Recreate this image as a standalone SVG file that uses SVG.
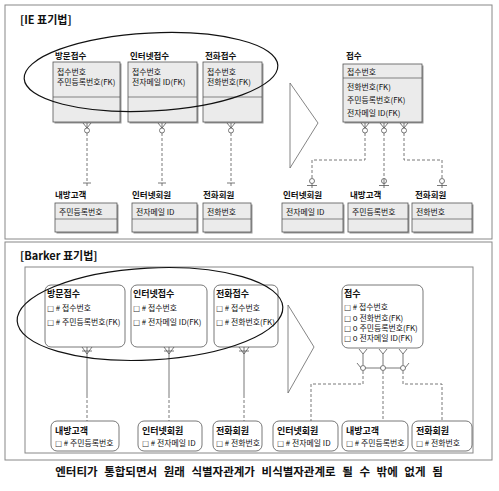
<svg xmlns="http://www.w3.org/2000/svg" width="499" height="491" viewBox="0 0 499 491">
<style>
text{font-family:"Noto Sans CJK KR","Noto Sans",sans-serif;fill:#111}
.h{font-size:11px;font-weight:bold}
.t{font-size:8.5px;font-weight:bold}
.a{font-size:7.9px}
.bt{font-size:9px;font-weight:bold}
.ba{font-size:7.9px}
.q{font-family:"DejaVu Sans",sans-serif;font-size:7.5px;fill:#333}
.ie{fill:#ebebeb;stroke:#555;stroke-width:0.8}
.sh{fill:#999}
.sep{stroke:#555;stroke-width:0.7}
.bk{fill:#fff;stroke:#555;stroke-width:0.8}
.frame{fill:none;stroke:#888;stroke-width:1}
.ln{fill:none;stroke:#555;stroke-width:0.8}
.ds{fill:none;stroke:#555;stroke-width:0.8;stroke-dasharray:3,2}
.ci{fill:#fff;stroke:#555;stroke-width:0.8}
.ell{fill:none;stroke:#111;stroke-width:1.2}
.tri{fill:none;stroke:#666;stroke-width:0.8}
</style>
<rect width="499" height="491" fill="#fff"/>
<rect class="frame" x="5" y="5" width="487" height="234"/>
<rect class="frame" x="5" y="242" width="487" height="218"/>
<rect class="frame" x="25" y="267" width="448" height="186"/>
<text class="h" x="20" y="24">[IE 표기법]</text>
<text class="h" x="20" y="260">[Barker 표기법]</text>

<g id="ie-visit">
<text class="t" x="55" y="59">방문접수</text>
<rect class="sh" x="54.5" y="63.5" width="67" height="60"/>
<rect class="ie" x="53" y="62" width="67" height="60"/>
<line class="sep" x1="53" y1="97" x2="120" y2="97"/>
<text class="a" x="57" y="75">접수번호</text>
<text class="a" x="57" y="85">주민등록번호(FK)</text>
</g>
<g id="ie-internet">
<text class="t" x="130" y="59">인터넷접수</text>
<rect class="sh" x="129.5" y="63.5" width="69" height="60"/>
<rect class="ie" x="128" y="62" width="69" height="60"/>
<line class="sep" x1="128" y1="97" x2="197" y2="97"/>
<text class="a" x="132" y="75">접수번호</text>
<text class="a" x="132" y="85">전자메일 ID(FK)</text>
</g>
<g id="ie-phone">
<text class="t" x="205" y="59">전화접수</text>
<rect class="sh" x="204.5" y="63.5" width="59" height="60"/>
<rect class="ie" x="203" y="62" width="59" height="60"/>
<line class="sep" x1="203" y1="97" x2="262" y2="97"/>
<text class="a" x="207" y="75">접수번호</text>
<text class="a" x="207" y="85">전화번호(FK)</text>
</g>
<g id="ie-merged">
<text class="t" x="346" y="59">접수</text>
<rect class="sh" x="344.5" y="65.5" width="79" height="58"/>
<rect class="ie" x="343" y="64" width="79" height="58"/>
<line class="sep" x1="343" y1="78" x2="422" y2="78"/>
<text class="a" x="347" y="75">접수번호</text>
<text class="a" x="347" y="90">전화번호(FK)</text>
<text class="a" x="347" y="103">주민등록번호(FK)</text>
<text class="a" x="347" y="116">전자메일 ID(FK)</text>
</g>

<g id="ie-cust-l">
<text class="t" x="55" y="198">내방고객</text>
<rect class="sh" x="56.5" y="204.5" width="62" height="29"/>
<rect class="ie" x="55" y="203" width="62" height="29"/>
<line class="sep" x1="55" y1="219" x2="117" y2="219"/>
<text class="a" x="59" y="215">주민등록번호</text>
</g>
<g id="ie-net-l">
<text class="t" x="132" y="198">인터넷회원</text>
<rect class="sh" x="133.5" y="204.5" width="65" height="29"/>
<rect class="ie" x="132" y="203" width="65" height="29"/>
<line class="sep" x1="132" y1="219" x2="197" y2="219"/>
<text class="a" x="136" y="215">전자메일 ID</text>
</g>
<g id="ie-tel-l">
<text class="t" x="203" y="198">전화회원</text>
<rect class="sh" x="204.5" y="204.5" width="48" height="29"/>
<rect class="ie" x="203" y="203" width="48" height="29"/>
<line class="sep" x1="203" y1="219" x2="251" y2="219"/>
<text class="a" x="207" y="215">전화번호</text>
</g>
<g id="ie-net-r">
<text class="t" x="283" y="198">인터넷회원</text>
<rect class="sh" x="283.5" y="204.5" width="61" height="29"/>
<rect class="ie" x="282" y="203" width="61" height="29"/>
<line class="sep" x1="282" y1="219" x2="343" y2="219"/>
<text class="a" x="286" y="215">전자메일 ID</text>
</g>
<g id="ie-cust-r">
<text class="t" x="350" y="198">내방고객</text>
<rect class="sh" x="349.5" y="204.5" width="60" height="29"/>
<rect class="ie" x="348" y="203" width="60" height="29"/>
<line class="sep" x1="348" y1="219" x2="408" y2="219"/>
<text class="a" x="352" y="215">주민등록번호</text>
</g>
<g id="ie-tel-r">
<text class="t" x="415" y="198">전화회원</text>
<rect class="sh" x="413.5" y="204.5" width="60" height="29"/>
<rect class="ie" x="412" y="203" width="60" height="29"/>
<line class="sep" x1="412" y1="219" x2="472" y2="219"/>
<text class="a" x="416" y="215">전화번호</text>
</g>

<g id="bk-visit">
<rect class="bk" x="45" y="285" width="80" height="62" rx="6"/>
<text class="bt" x="47" y="297">방문접수</text>
<text class="ba" x="47" y="311"><tspan class="q">□</tspan> # 접수번호</text>
<text class="ba" x="47" y="325"><tspan class="q">□</tspan> # 주민등록번호(FK)</text>
</g>
<g id="bk-internet">
<rect class="bk" x="131" y="285" width="76" height="62" rx="6"/>
<text class="bt" x="133" y="297">인터넷접수</text>
<text class="ba" x="133" y="311"><tspan class="q">□</tspan> # 접수번호</text>
<text class="ba" x="133" y="325"><tspan class="q">□</tspan> # 전자메일 ID(FK)</text>
</g>
<g id="bk-phone">
<rect class="bk" x="214" y="285" width="64" height="62" rx="6"/>
<text class="bt" x="216" y="297">전화접수</text>
<text class="ba" x="216" y="311"><tspan class="q">□</tspan> # 접수번호</text>
<text class="ba" x="216" y="325"><tspan class="q">□</tspan> # 전화번호(FK)</text>
</g>
<g id="bk-merged">
<rect class="bk" x="342" y="285" width="81" height="63" rx="6"/>
<text class="bt" x="344" y="297">접수</text>
<text class="ba" x="344" y="310"><tspan class="q">□</tspan> # 접수번호</text>
<text class="ba" x="344" y="321"><tspan class="q">□</tspan> o 전화번호(FK)</text>
<text class="ba" x="344" y="331"><tspan class="q">□</tspan> o 주민등록번호(FK)</text>
<text class="ba" x="344" y="341"><tspan class="q">□</tspan> o 전자메일 ID(FK)</text>
</g>
<g id="bk-cust-l">
<rect class="bk" x="51" y="421" width="68" height="30" rx="6"/>
<text class="bt" x="55" y="434">내방고객</text>
<text class="ba" x="55" y="446"><tspan class="q">□</tspan> # 주민등록번호</text>
</g>
<g id="bk-net-l">
<rect class="bk" x="138" y="421" width="64" height="30" rx="6"/>
<text class="bt" x="142" y="434">인터넷회원</text>
<text class="ba" x="142" y="446"><tspan class="q">□</tspan> # 전자메일 ID</text>
</g>
<g id="bk-tel-l">
<rect class="bk" x="213" y="421" width="49" height="30" rx="6"/>
<text class="bt" x="216" y="434">전화회원</text>
<text class="ba" x="216" y="446"><tspan class="q">□</tspan> # 전화번호</text>
</g>
<g id="bk-net-r">
<rect class="bk" x="273" y="421" width="65" height="30" rx="6"/>
<text class="bt" x="277" y="434">인터넷회원</text>
<text class="ba" x="277" y="446"><tspan class="q">□</tspan> # 전자메일 ID</text>
</g>
<g id="bk-cust-r">
<rect class="bk" x="342" y="421" width="66" height="30" rx="6"/>
<text class="bt" x="346" y="434">내방고객</text>
<text class="ba" x="346" y="446"><tspan class="q">□</tspan> # 주민등록번호</text>
</g>
<g id="bk-tel-r">
<rect class="bk" x="412" y="421" width="60" height="30" rx="6"/>
<text class="bt" x="416" y="434">전화회원</text>
<text class="ba" x="416" y="446"><tspan class="q">□</tspan> # 전화번호</text>
</g>

<g id="connectors">
<g id="ie-c1">
<path class="ln" d="M83,123 L87,128 L91,123 M87,123 V128"/>
<circle class="ci" cx="87" cy="130.5" r="2.5"/>
<path class="ds" d="M87,133 V187"/>
<path class="ln" d="M83,183 H91"/>
</g>
<g id="ie-c2">
<path class="ln" d="M158,123 L162,128 L166,123 M162,123 V128"/>
<circle class="ci" cx="162" cy="130.5" r="2.5"/>
<path class="ds" d="M162,133 V187"/>
<path class="ln" d="M158,183 H166"/>
</g>
<g id="ie-c3">
<path class="ln" d="M227,123 L231,128 L235,123 M231,123 V128"/>
<circle class="ci" cx="231" cy="130.5" r="2.5"/>
<path class="ds" d="M231,133 V187"/>
<path class="ln" d="M227,183 H235"/>
</g>
<g id="ie-c4">
<path class="ln" d="M361,123 L365,128 L369,123 M365,123 V128"/>
<circle class="ci" cx="365" cy="130.5" r="2.5"/>
<path class="ds" d="M365,133 V160 H312 V178"/>
<circle class="ci" cx="312" cy="181" r="2.5"/>
<path class="ln" d="M307,185.5 H317 M312,183.5 V188"/>
</g>
<g id="ie-c5">
<path class="ln" d="M380,123 L384,128 L388,123 M384,123 V128"/>
<circle class="ci" cx="384" cy="130.5" r="2.5"/>
<path class="ds" d="M384,133 V178"/>
<circle class="ci" cx="384" cy="181" r="2.5"/>
<path class="ln" d="M379,185.5 H389 M384,178.5 V188"/>
</g>
<g id="ie-c6">
<path class="ln" d="M400,123 L404,128 L408,123 M404,123 V128"/>
<circle class="ci" cx="404" cy="130.5" r="2.5"/>
<path class="ds" d="M404,133 V160 H442 V178"/>
<circle class="ci" cx="442" cy="181" r="2.5"/>
<path class="ln" d="M437,185.5 H447 M442,183.5 V188"/>
</g>
<g id="bk-c1">
<path class="ln" d="M82,347 L87,354 L92,347 M87,347 V395 M82,351 H92"/>
<path class="ds" d="M87,395 V421"/>
</g>
<g id="bk-c2">
<path class="ln" d="M164,347 L169,354 L174,347 M169,347 V395 M164,351 H174"/>
<path class="ds" d="M169,395 V421"/>
</g>
<g id="bk-c3">
<path class="ln" d="M239,347 L244,354 L249,347 M244,347 V395 M239,351 H249"/>
<path class="ds" d="M244,395 V421"/>
</g>
<g id="bk-c4">
<path class="ln" d="M359,349 L363,354 L367,349 M363,354 V365"/>
<path class="ln" d="M379,349 L383,354 L387,349 M383,354 V365"/>
<path class="ln" d="M399,349 L403,354 L407,349 M403,354 V365"/>
<path class="ln" d="M357,363 L361,368 H405 L409,363"/>
<circle class="ci" cx="363" cy="368" r="2.5"/>
<circle class="ci" cx="383" cy="368" r="2.5"/>
<circle class="ci" cx="403" cy="368" r="2.5"/>
<path class="ds" d="M363,371 V384 H311 V421"/>
<path class="ds" d="M383,371 V421"/>
<path class="ds" d="M403,371 V384 H442 V421"/>
</g>
</g>

<polygon class="tri" points="290,83 318,123 290,168"/>
<polygon class="tri" points="288,305 314,347 288,393"/>
<ellipse class="ell" cx="151" cy="72" rx="127" ry="39" transform="rotate(-3 151 72)"/>
<ellipse class="ell" cx="150" cy="314" rx="133" ry="46" transform="rotate(-3 150 314)"/>

<text x="249" y="476" text-anchor="middle" style="font-size:11.5px;font-weight:bold;word-spacing:4px">엔터티가 통합되면서 원래 식별자관계가 비식별자관계로 될 수 밖에 없게 됨</text>
</svg>
